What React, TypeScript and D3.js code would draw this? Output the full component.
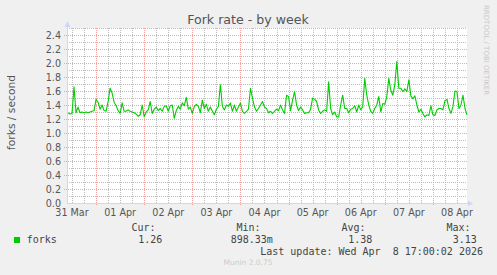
import React from "react";
import * as d3 from "d3";

const W = 497;
const H = 275;

const title = "Fork rate - by week";
const yLabel = "forks / second";
const sideText = "RRDTOOL / TOBI OETIKER";
const footer = "Munin 2.0.75";
const lastUpdate = "Last update: Wed Apr  8 17:00:02 2026";

const seriesName = "forks";
const legendHeaders = ["Cur:", "Min:", "Avg:", "Max:"];
const legendValues = ["1.26", "898.33m", "1.38", "3.13"];

// time window (UTC)
const startTime = Date.UTC(2026, 2, 31, 9, 30);
const endTime = Date.UTC(2026, 3, 8, 17, 0);
const firstSample = Date.UTC(2026, 2, 31, 10, 0);
const sampleStepHours = 1;

// hourly fork rate samples, forks/second
const forkValues = [
  1.29, 1.27, 1.28, 1.66, 1.29, 1.37, 1.29, 1.30, 1.29, 1.30,
  1.29, 1.30, 1.31, 1.32, 1.48, 1.44, 1.34, 1.40, 1.32, 1.31,
  1.45, 1.64, 1.57, 1.44, 1.39, 1.32, 1.28, 1.43, 1.31, 1.31,
  1.33, 1.31, 1.30, 1.29, 1.27, 1.24, 1.26, 1.40, 1.23, 1.30,
  1.33, 1.45, 1.28, 1.34, 1.37, 1.32, 1.35, 1.31, 1.38, 1.39,
  1.31, 1.39, 1.40, 1.21, 1.32, 1.38, 1.34, 1.43, 1.39, 1.51,
  1.34, 1.37, 1.28, 1.38, 1.41, 1.38, 1.29, 1.47, 1.35, 1.41,
  1.31, 1.37, 1.31, 1.26, 1.34, 1.38, 1.69, 1.38, 1.33, 1.40,
  1.38, 1.43, 1.31, 1.40, 1.31, 1.37, 1.43, 1.31, 1.28, 1.31,
  1.34, 1.64, 1.50, 1.37, 1.31, 1.35, 1.40, 1.45, 1.37, 1.35,
  1.29, 1.31, 1.28, 1.31, 1.34, 1.32, 1.40, 1.33, 1.28, 1.54,
  1.52, 1.32, 1.47, 1.59, 1.40, 1.32, 1.37, 1.33, 1.28, 1.29,
  1.29, 1.34, 1.50, 1.48, 1.45, 1.33, 1.28, 1.31, 1.33, 1.31,
  1.73, 1.35, 1.26, 1.30, 1.23, 1.23, 1.40, 1.54, 1.35, 1.35,
  1.29, 1.34, 1.35, 1.39, 1.30, 1.40, 1.33, 1.38, 1.78, 1.54,
  1.40, 1.31, 1.28, 1.35, 1.40, 1.52, 1.30, 1.42, 1.41, 1.52,
  1.78, 1.61, 1.54, 1.69, 2.02, 1.64, 1.64, 1.59, 1.63, 1.59,
  1.76, 1.53, 1.49, 1.53, 1.40, 1.30, 1.34, 1.28, 1.23, 1.26,
  1.25, 1.39, 1.26, 1.25, 1.33, 1.35, 1.35, 1.33, 1.46, 1.48,
  1.35, 1.28, 1.38, 1.60, 1.59, 1.35, 1.40, 1.54, 1.35, 1.26,
];

const yMax = 2.5;
const yLabelTicks = [0, 0.2, 0.4, 0.6, 0.8, 1.0, 1.2, 1.4, 1.6, 1.8, 2.0, 2.2, 2.4];

const plot = { left: 67, right: 467, top: 28, bottom: 203 };

const C = {
  back: "#f0f0f0",
  canvas: "#ffffff",
  font: "#555555",
  axis: "#cfd6f8",
  grid: "#bdbdbd",
  mgrid: "#f2a4a4",
  line: "#00cc00",
  faint: "#c8c8c8",
};

export default function App() {
  const x = d3.scaleUtc().domain([startTime, endTime]).range([plot.left, plot.right]);
  const y = d3.scaleLinear().domain([0, yMax]).range([plot.bottom, plot.top]);

  const data = forkValues.map((v, i) => ({
    t: firstSample + i * sampleStepHours * 3600000,
    v,
  }));
  const line = d3
    .line<{ t: number; v: number }>()
    .x((d) => x(d.t))
    .y((d) => y(d.v));

  const minorY = d3.range(1, 26).map((i) => i / 10).filter((v) => Math.round(v * 10) % 2 === 1);
  const majorY = yLabelTicks.filter((v) => v > 0);
  const sixHours = d3.utcHour.every(6)!.range(new Date(startTime), new Date(endTime));
  const minorX = sixHours.filter((d) => d.getUTCHours() !== 0);
  const majorX = d3.utcDay.range(new Date(startTime), new Date(endTime));
  const labelDays = d3.utcDay.range(d3.utcDay.floor(new Date(startTime)), new Date(endTime));
  const fmtDay = d3.utcFormat("%d %b");
  const fmtY = d3.format(".1f");

  const sans = "'DejaVu Sans', sans-serif";
  const mono = "'DejaVu Sans Mono', monospace";
  const headerX = [131.5, 236.5, 341.5, 446.5];
  const valueX = [138.3, 230.7, 348.3, 452.7];
  const px = (v: number) => Math.round(v) + 0.5;

  return (
    <svg
      width={W}
      height={H}
      style={{ position: "fixed", left: 0, top: 0, display: "block" }}
      xmlns="http://www.w3.org/2000/svg"
    >
      <rect x={0} y={0} width={W} height={H} fill={C.back} />
      <rect
        x={plot.left}
        y={plot.top}
        width={plot.right - plot.left}
        height={plot.bottom - plot.top}
        fill={C.canvas}
      />
      {/* minor grid */}
      <g stroke={C.grid} strokeWidth={1} strokeDasharray="1 1">
        {minorY.map((v) => (
          <line key={"my" + v} x1={plot.left} x2={plot.right} y1={px(y(v))} y2={px(y(v))} />
        ))}
        {minorX.map((d) => (
          <line key={"mx" + +d} x1={px(x(d))} x2={px(x(d))} y1={plot.top} y2={plot.bottom} />
        ))}
      </g>
      {/* major grid */}
      <g stroke={C.mgrid} strokeWidth={1} strokeDasharray="1 1">
        {majorY.map((v) => (
          <line key={"My" + v} x1={plot.left - 3} x2={plot.right} y1={px(y(v))} y2={px(y(v))} />
        ))}
        {majorX.map((d) => (
          <line key={"Mx" + +d} x1={px(x(d))} x2={px(x(d))} y1={plot.top} y2={plot.bottom + 3} />
        ))}
      </g>
      {/* data */}
      <path d={line(data) || ""} fill="none" stroke={C.line} strokeWidth={1.1} strokeLinejoin="round" />
      {/* axes */}
      <g stroke={C.axis} strokeWidth={1} shapeRendering="crispEdges">
        <line x1={plot.left + 0.5} x2={plot.left + 0.5} y1={plot.bottom} y2={plot.top - 3} />
        <line x1={plot.left} x2={plot.right + 3} y1={plot.bottom + 0.5} y2={plot.bottom + 0.5} />
      </g>
      <path
        d={`M${plot.left + 0.5},${plot.top - 7} L${plot.left - 2.5},${plot.top - 1} L${plot.left + 3.5},${plot.top - 1} Z`}
        fill={C.axis}
      />
      <path
        d={`M${plot.right + 6},${plot.bottom + 0.5} L${plot.right + 1},${plot.bottom - 2.5} L${plot.right + 1},${plot.bottom + 3.5} Z`}
        fill={C.axis}
      />
      {/* y tick labels */}
      <g fontFamily={sans} fontSize={9.6} fill={C.font} textAnchor="end">
        {yLabelTicks.map((v) => (
          <text key={"yl" + v} x={plot.left - 6} y={y(v) + 3.5}>
            {fmtY(v)}
          </text>
        ))}
      </g>
      {/* x tick labels at noon */}
      <g fontFamily={sans} fontSize={9.6} fill={C.font} textAnchor="middle">
        {labelDays.map((d) => (
          <text key={"xl" + +d} x={x(d3.utcHour.offset(d, 12))} y={216}>
            {fmtDay(d)}
          </text>
        ))}
      </g>
      {/* title */}
      <text x={248} y={24} textAnchor="middle" fontFamily={sans} fontSize={12.6} fill={C.font}>
        {title}
      </text>
      {/* y label */}
      <text
        transform={`translate(15,${(plot.top + plot.bottom) / 2 - 3}) rotate(-90)`}
        textAnchor="middle"
        fontFamily={sans}
        fontSize={10.7}
        fill={C.font}
      >
        {yLabel}
      </text>
      {/* side text */}
      <text
        transform="translate(484,5) rotate(90)"
        fontFamily={sans}
        fontSize={7}
        fill={C.faint}
      >
        {sideText}
      </text>
      {/* legend */}
      <g fontFamily={mono} fontSize={10} fill="#444" style={{ whiteSpace: "pre" }}>
        {legendHeaders.map((h, i) => (
          <text key={"h" + h} x={headerX[i]} y={231}>
            {h}
          </text>
        ))}
        <rect x={14} y={237} width={6} height={6} fill={C.line} />
        <text x={26.7} y={243}>
          {seriesName}
        </text>
        {legendValues.map((v, i) => (
          <text key={"v" + i} x={valueX[i]} y={243}>
            {v}
          </text>
        ))}
        <text x={483} y={255} textAnchor="end" xmlSpace="preserve">
          {lastUpdate}
        </text>
      </g>
      <text x={248} y={265} textAnchor="middle" fontFamily={sans} fontSize={7.5} fill="#cccccc">
        {footer}
      </text>
    </svg>
  );
}
